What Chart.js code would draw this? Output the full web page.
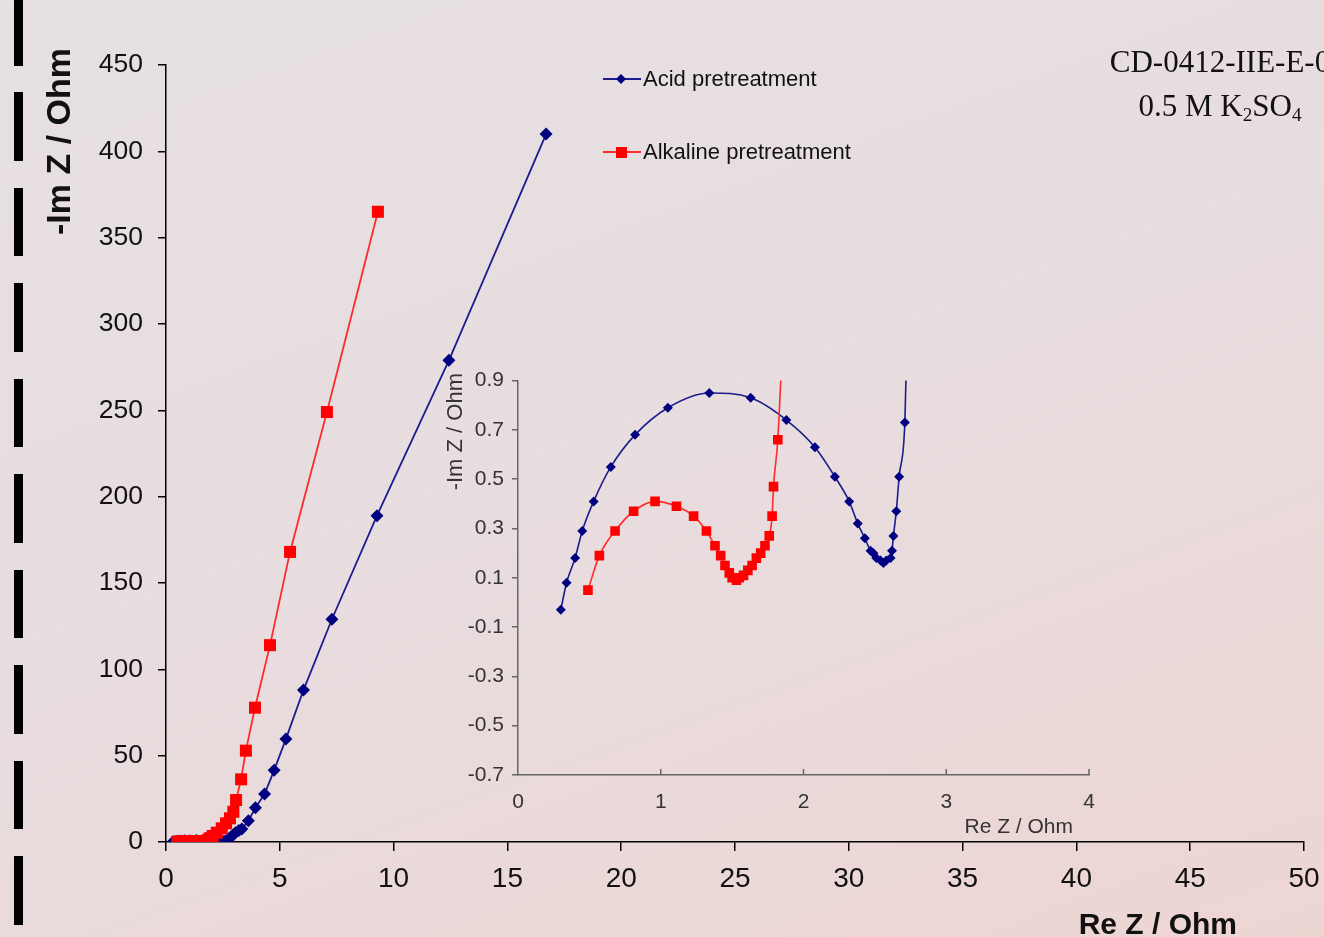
<!DOCTYPE html>
<html>
<head>
<meta charset="utf-8">
<title>Impedance spectra</title>
<script src="https://cdn.jsdelivr.net/npm/chart.js@4.4.0/dist/chart.umd.min.js"></script>
<style>
  html, body { margin: 0; padding: 0; }
  body {
    width: 1324px; height: 937px; overflow: hidden; position: relative;
    background: linear-gradient(160deg, #e6e0e3 0%, #e8dcde 55%, #edd5d2 100%);
    font-family: 'Liberation Sans', Arial, sans-serif;
  }
  #dashes {
    position: absolute; left: 14px; top: -3px; width: 9px; height: 945px;
    background: repeating-linear-gradient(to bottom, #000 0, #000 68.5px, transparent 68.5px, transparent 95.5px);
  }
  #main-chart { position: absolute; left: 0; top: 0; }
  #inset-chart { position: absolute; left: 430px; top: 360px; }
  .legend-row { position: absolute; left: 603px; height: 24px; display: flex; align-items: center;
    font-size: 22px; color: #111; white-space: nowrap; }
  .legend-row canvas { margin-right: 2px; }
  #sample-id {
    position: absolute; left: 1080px; top: 40px; width: 280px; text-align: center;
    font-family: 'Liberation Serif', 'Times New Roman', serif; font-size: 31px; line-height: 44px;
    color: #111; white-space: nowrap;
  }
  #sample-id sub { font-size: 0.62em; vertical-align: -0.28em; line-height: 0; }
</style>
</head>
<body>
<div id="dashes"></div>
<canvas id="main-chart" width="1324" height="937"></canvas>
<canvas id="inset-chart" width="680" height="480"></canvas>
<div id="legend"></div>
<div id="sample-id">CD-0412-IIE-E-0<br>0.5 M K<sub>2</sub>SO<sub>4</sub></div>

<script>
// series names
const seriesNames = ['Acid pretreatment', 'Alkaline pretreatment'];

// acid pretreatment: Re Z and -Im Z (Ohm)
const acidRe = [0.30, 0.34, 0.40, 0.45, 0.53, 0.65, 0.82, 1.05, 1.34, 1.63, 1.88, 2.08, 2.22, 2.32,
    2.38, 2.43, 2.47, 2.49, 2.51, 2.54, 2.56, 2.58, 2.61, 2.62, 2.63, 2.65, 2.67, 2.71,
    2.73, 2.77, 2.84, 2.93, 3.05, 3.20, 3.33, 3.62, 3.93, 4.33, 4.75, 5.27, 6.04, 7.29, 9.27, 12.43, 16.70];
const acidIm = [-0.03, 0.08, 0.18, 0.29, 0.41, 0.55, 0.68, 0.79, 0.85, 0.83, 0.74, 0.63, 0.51, 0.41,
    0.32, 0.26, 0.21, 0.20, 0.18, 0.17, 0.16, 0.17, 0.18, 0.21, 0.27, 0.37, 0.51, 0.73,
    1.2, 1.9, 2.8, 3.9, 5.3, 6.6, 7.5, 12.3, 19.8, 27.8, 41.5, 59.7, 88, 129, 189, 279, 410];

// alkaline pretreatment: Re Z and -Im Z (Ohm)
const alkRe = [0.49, 0.57, 0.68, 0.81, 0.96, 1.11, 1.23, 1.32, 1.38, 1.42, 1.45, 1.48, 1.50, 1.53,
    1.55, 1.58, 1.61, 1.64, 1.67, 1.70, 1.73, 1.76, 1.78, 1.79, 1.82,
    1.87, 1.93, 2.05, 2.23, 2.45, 2.64, 2.81, 2.96, 3.08, 3.30, 3.51, 3.91, 4.57, 5.45, 7.07, 9.31];
const alkIm = [0.05, 0.19, 0.29, 0.37, 0.41, 0.39, 0.35, 0.29, 0.23, 0.19, 0.15, 0.12, 0.10, 0.09,
    0.10, 0.11, 0.13, 0.15, 0.18, 0.20, 0.23, 0.27, 0.35, 0.47, 0.66,
    1.3, 2.2, 3.5, 5.4, 7.9, 10.8, 13.7, 17.5, 24.3, 36.3, 52.9, 77.8, 114, 168, 249, 365];

// tick values
const mainXTicks = [0, 5, 10, 15, 20, 25, 30, 35, 40, 45, 50];
const mainYTicks = [0, 50, 100, 150, 200, 250, 300, 350, 400, 450];
const insetXTicks = [0, 1, 2, 3, 4];
const insetYTicks = [-0.7, -0.5, -0.3, -0.1, 0.1, 0.3, 0.5, 0.7, 0.9];

const blue = '#000080';
const blueLine = '#1c1c8c';
const red = '#ff0000';
const redLine = '#ff2b2b';
const sans = "'Liberation Sans', Arial, sans-serif";

function toPoints(xs, ys) {
    return xs.map((x, i) => ({ x: x, y: ys[i] }));
}

function makeDatasets(size) {
    return [
        {
            label: seriesNames[0],
            data: toPoints(acidRe, acidIm),
            borderColor: blueLine,
            borderWidth: size.line,
            pointStyle: 'rectRot',
            pointRadius: size.diamond,
            pointBackgroundColor: blue,
            pointBorderColor: blue,
            pointBorderWidth: 0,
            tension: size.tension,
            cubicInterpolationMode: size.mode,
            order: 2
        },
        {
            label: seriesNames[1],
            data: toPoints(alkRe, alkIm),
            borderColor: redLine,
            borderWidth: size.line,
            pointStyle: 'rect',
            pointRadius: size.square,
            pointBackgroundColor: red,
            pointBorderColor: red,
            pointBorderWidth: 0,
            tension: size.tension,
            cubicInterpolationMode: size.mode,
            order: 1
        }
    ];
}

// axis titles drawn in place
function titles(draw) {
    return {
        id: 'titles',
        afterDraw(chart) {
            const ctx = chart.ctx;
            ctx.save();
            draw(ctx, chart.chartArea);
            ctx.restore();
        }
    };
}

new Chart(document.getElementById('main-chart'), {
    type: 'line',
    data: { datasets: makeDatasets({ line: 1.8, diamond: 6.5, square: 8.5, tension: 0, mode: 'default' }) },
    options: {
        responsive: false,
        animation: false,
        events: [],
        layout: { padding: { left: 0, top: 65, right: 20, bottom: 0 } },
        plugins: { legend: { display: false }, tooltip: { enabled: false } },
        scales: {
            x: {
                type: 'linear', min: 0, max: 50,
                afterBuildTicks: (s) => { s.ticks = mainXTicks.map(v => ({ value: v })); },
                afterFit: (s) => { s.height = 95; s.paddingRight = 0; s.paddingLeft = 0; },
                grid: { drawOnChartArea: false, tickLength: 9, color: '#000', lineWidth: 1.5 },
                border: { color: '#000', width: 1.5 },
                ticks: { font: { family: sans, size: 28 }, color: '#111', padding: 11, maxRotation: 0 }
            },
            y: {
                type: 'linear', min: 0, max: 450,
                afterBuildTicks: (s) => { s.ticks = mainYTicks.map(v => ({ value: v })); },
                afterFit: (s) => { s.width = 166; },
                grid: { drawOnChartArea: false, tickLength: 8, color: '#000', lineWidth: 1.5 },
                border: { color: '#000', width: 1.5 },
                ticks: { font: { family: sans, size: 26.5 }, color: '#111', padding: 15 }
            }
        }
    },
    plugins: [titles((ctx, area) => {
        ctx.fillStyle = '#111';
        ctx.font = 'bold 30px ' + sans;
        ctx.textAlign = 'right';
        ctx.textBaseline = 'alphabetic';
        ctx.fillText('Re Z / Ohm', area.right - 67, 934);
        ctx.translate(70, 48);
        ctx.rotate(-Math.PI / 2);
        ctx.font = 'bold 34px ' + sans;
        ctx.fillText('-Im Z / Ohm', 0, 0);
    })]
});

const insetAxis = '#666';

new Chart(document.getElementById('inset-chart'), {
    type: 'line',
    data: { datasets: makeDatasets({ line: 1.6, diamond: 5, square: 6.8, tension: 0.4, mode: 'monotone' }) },
    options: {
        responsive: false,
        animation: false,
        events: [],
        layout: { padding: { left: 0, top: 20, right: 21, bottom: 0 } },
        plugins: { legend: { display: false }, tooltip: { enabled: false } },
        scales: {
            x: {
                type: 'linear', min: 0, max: 4,
                afterBuildTicks: (s) => { s.ticks = insetXTicks.map(v => ({ value: v })); },
                afterFit: (s) => { s.height = 65; s.paddingRight = 0; s.paddingLeft = 0; },
                grid: { drawOnChartArea: false, drawTicks: false },
                border: { color: insetAxis, width: 1.5 },
                ticks: { font: { family: sans, size: 21 }, color: '#333', padding: 15, maxRotation: 0 }
            },
            y: {
                type: 'linear', min: -0.7, max: 0.9,
                afterBuildTicks: (s) => { s.ticks = insetYTicks.map(v => ({ value: v })); },
                afterFit: (s) => { s.width = 88; },
                grid: { drawOnChartArea: false, tickLength: 6, color: insetAxis, lineWidth: 1.5 },
                border: { color: insetAxis, width: 1.5 },
                ticks: { font: { family: sans, size: 21 }, color: '#333', padding: 8,
                    callback: (v) => v.toFixed(1) }
            }
        }
    },
    plugins: [
        {
            // x ticks of the inset point inwards
            id: 'innerTicks',
            afterDraw(chart) {
                const xs = chart.scales.x;
                const ctx = chart.ctx;
                ctx.save();
                ctx.strokeStyle = insetAxis;
                ctx.lineWidth = 1.5;
                xs.ticks.forEach(t => {
                    if (t.value === 0) return;
                    const px = xs.getPixelForValue(t.value);
                    ctx.beginPath();
                    ctx.moveTo(px, xs.top);
                    ctx.lineTo(px, xs.top - 6);
                    ctx.stroke();
                });
                ctx.restore();
            }
        },
        titles((ctx, area) => {
            ctx.fillStyle = '#333';
            ctx.font = '21px ' + sans;
            ctx.textAlign = 'right';
            ctx.textBaseline = 'alphabetic';
            ctx.fillText('Re Z / Ohm', area.right - 16, 473);
            ctx.translate(32, 13);
            ctx.rotate(-Math.PI / 2);
            ctx.font = '22px ' + sans;
            ctx.fillText('-Im Z / Ohm', 0, 0);
        })
    ]
});

// legend: line with marker, then the name
const legend = document.getElementById('legend');
const legendTops = [67, 140];
seriesNames.forEach((name, i) => {
    const row = document.createElement('div');
    row.className = 'legend-row';
    row.style.top = legendTops[i] + 'px';
    const c = document.createElement('canvas');
    c.width = 38;
    c.height = 24;
    const g = c.getContext('2d');
    g.strokeStyle = i === 0 ? blueLine : redLine;
    g.lineWidth = 1.8;
    g.beginPath();
    g.moveTo(0, 12);
    g.lineTo(38, 12);
    g.stroke();
    g.fillStyle = i === 0 ? blue : red;
    if (i === 0) {
        g.beginPath();
        g.moveTo(18, 7); g.lineTo(23, 12); g.lineTo(18, 17); g.lineTo(13, 12);
        g.closePath();
        g.fill();
    } else {
        g.fillRect(13, 7, 11, 11);
    }
    const span = document.createElement('span');
    span.textContent = name;
    row.append(c, span);
    legend.appendChild(row);
});
</script>
</body>
</html>
